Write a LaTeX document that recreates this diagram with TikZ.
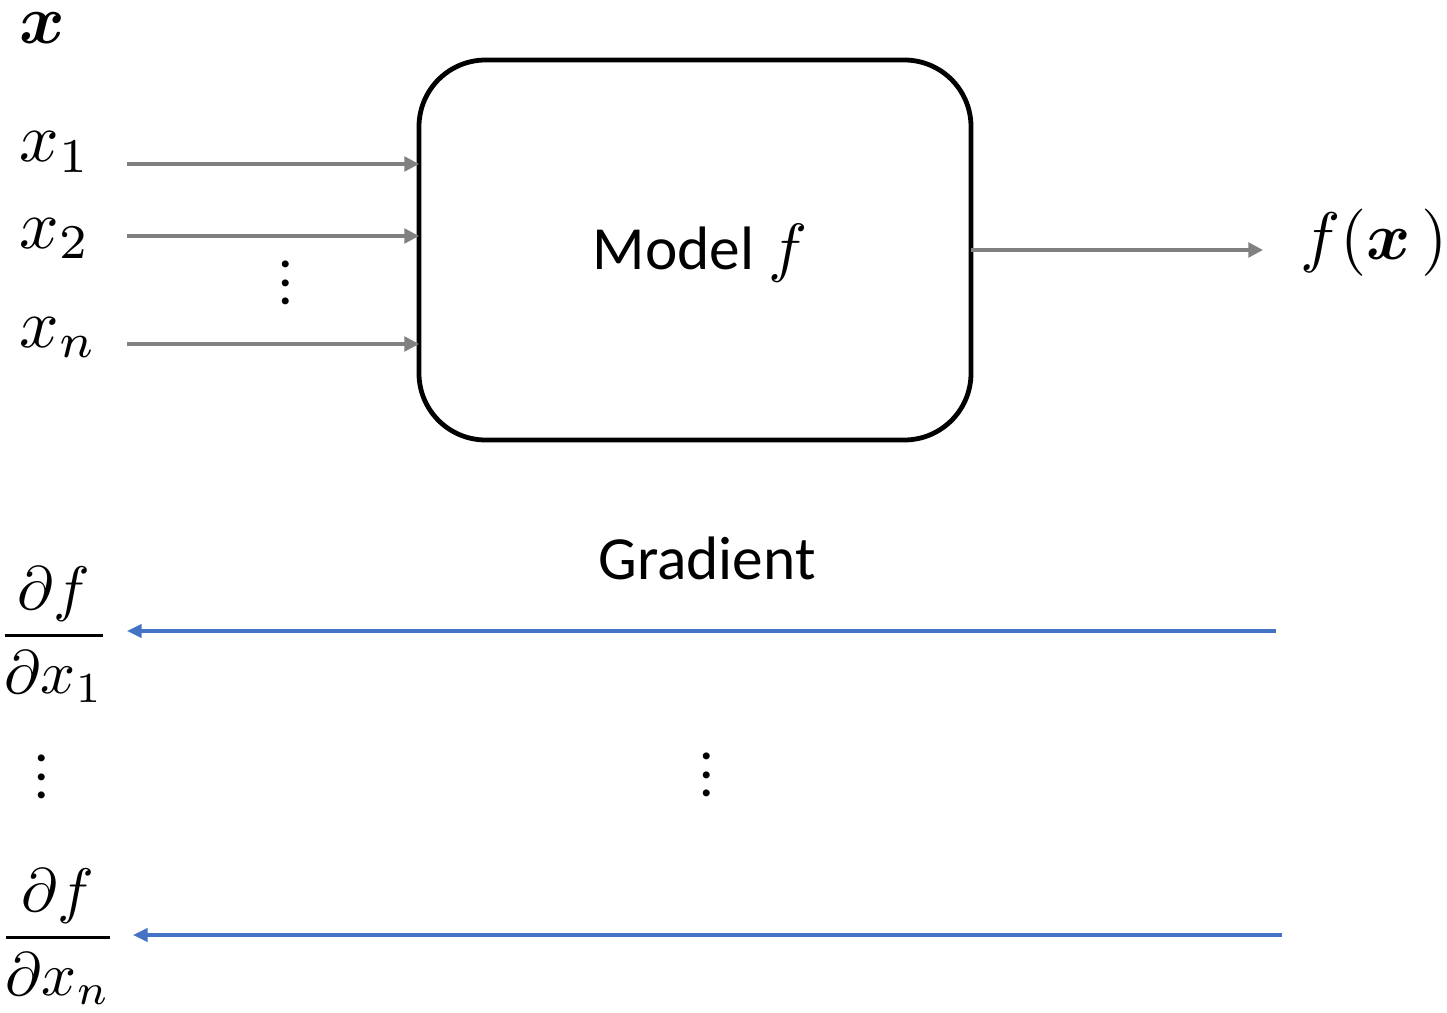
\documentclass[tikz,border=0pt]{standalone}
\usepackage{amsmath}
\usepackage{fontspec}
\setmainfont{Carlito}
\usetikzlibrary{arrows.meta}
\definecolor{flowgray}{HTML}{808080}
\definecolor{gradblue}{HTML}{4472C4}
\begin{document}
\begin{tikzpicture}[x=0.75pt,y=-0.75pt,
  every node/.style={inner sep=0pt,outer sep=0pt},
  txt/.style={font=\fontsize{46}{55}\selectfont},
  mth/.style={font=\fontsize{10}{12}\selectfont,scale=5.2,anchor=base west},
  frc/.style={font=\fontsize{10}{12}\selectfont,scale=4.6,anchor=base},
  fwd/.style={draw=flowgray,line width=2.5pt,-{Triangle[length=11pt,width=11pt]}},
  bwd/.style={draw=gradblue,line width=2.3pt,-{Triangle[length=11pt,width=10pt]}},
  vdots/.style={font=\fontsize{10}{12}\selectfont\bfseries,scale=3.5,anchor=south}]
\useasboundingbox (0,0) rectangle (1447,1013);

% model block
\draw[line width=3.6pt,rounded corners=50pt] (419,60) rectangle (971,440);
\node[txt] (model) at (700,253) {Model \scalebox{4.9}{\fontsize{10}{12}\selectfont$f$}};
\coordinate (boxW1) at (419,164);
\coordinate (boxW2) at (419,236);
\coordinate (boxWn) at (419,344);
\coordinate (boxE) at (971,250);

% inputs
\node[mth] (xvec) at (20,44) {$\boldsymbol{x}$};
\node[mth] (x1) at (20,162) {$x_1$};
\node[mth] (x2) at (20,248) {$x_2$};
\node[mth] (xn) at (20,347) {$x_n$};
\coordinate (in1) at (127,164);
\coordinate (in2) at (127,236);
\coordinate (inn) at (127,344);
\draw[fwd] (in1) -- (boxW1);
\draw[fwd] (in2) -- (boxW2);
\draw[fwd] (inn) -- (boxWn);
\node[vdots] (indots) at (286,305) {$\vdots$};

% output
\coordinate (outend) at (1263,250);
\draw[fwd] (boxE) -- (outend);
\node[mth,scale=0.97] (fx) at (1300,260) {$f(\boldsymbol{x}\,)$};

% gradient
\node[txt] (grad) at (707,558) {Gradient};
\node[frc] (d1) at (54,651) {$\dfrac{\partial f}{\partial x_1}$};
\node[frc] (dn) at (58,953) {$\dfrac{\partial f}{\partial x_n}$};
\coordinate (g1s) at (1276,631);
\coordinate (g1e) at (127,631);
\coordinate (gns) at (1282,935);
\coordinate (gne) at (133,935);
\draw[bwd] (g1s) -- (g1e);
\draw[bwd] (gns) -- (gne);
\node[vdots] (ldots) at (42,799) {$\vdots$};
\node[vdots] (mdots) at (707,797) {$\vdots$};
\end{tikzpicture}
\end{document}
